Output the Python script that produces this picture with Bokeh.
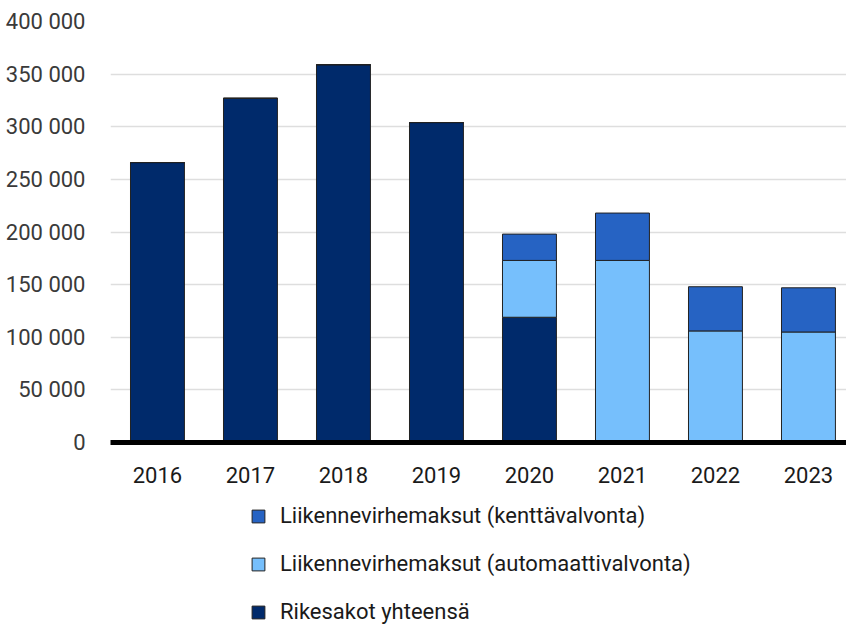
from bokeh.plotting import figure
from bokeh.layouts import column
from bokeh.models import ColumnDataSource, Range1d, FixedTicker, Legend, LegendItem
from bokeh.embed import file_html
from bokeh.resources import INLINE

years = ["2016", "2017", "2018", "2019", "2020", "2021", "2022", "2023"]
rikesakot = [266000, 327000, 359000, 304000, 119000, 0, 0, 0]
automaatti = [0, 0, 0, 0, 54000, 173000, 106000, 105000]
kentta = [0, 0, 0, 0, 25000, 45000, 42000, 42000]
y_ticks = [0, 50000, 100000, 150000, 200000, 250000, 300000, 350000, 400000]
y_labels = ["0", "50 000", "100 000", "150 000", "200 000", "250 000", "300 000", "350 000", "400 000"]
series = ["rike", "auto", "kentta"]
series_labels = {
    "kentta": "Liikennevirhemaksut (kenttävalvonta)",
    "auto": "Liikennevirhemaksut (automaattivalvonta)",
    "rike": "Rikesakot yhteensä",
}
colors = ["#002a6b", "#76bffc", "#2663c3"]

FONT = "Roboto"

src = ColumnDataSource(dict(x=list(range(len(years))), rike=rikesakot, auto=automaatti, kentta=kentta))

p = figure(width=846, height=500, output_backend="svg", toolbar_location=None,
           x_range=Range1d(-0.505, 7.409), y_range=Range1d(0, 400000),
           min_border_left=110, min_border_right=0, min_border_top=21,
           min_border_bottom=58)
p.outline_line_color = None
p.background_fill_color = "white"

rs = p.vbar_stack(series, x="x", width=0.58, source=src, fill_color=colors,
                  line_color="#222222", line_width=1)

# axes
p.xaxis.ticker = FixedTicker(ticks=list(range(len(years))))
p.xaxis.major_label_overrides = {i: y for i, y in enumerate(years)}
p.xaxis.major_tick_line_color = None
p.xaxis.minor_tick_line_color = None
p.xaxis.axis_line_color = "black"
p.xaxis.axis_line_width = 5
p.xaxis.major_label_text_font = FONT
p.xaxis.major_label_text_font_size = "22px"
p.xaxis.major_label_text_color = "#1a1a1a"
p.xaxis.major_label_standoff = 18

p.yaxis.ticker = FixedTicker(ticks=y_ticks)
p.yaxis.major_label_overrides = {t: l for t, l in zip(y_ticks, y_labels)}
p.yaxis.axis_line_color = None
p.yaxis.major_tick_line_color = None
p.yaxis.minor_tick_line_color = None
p.yaxis.major_label_text_font = FONT
p.yaxis.major_label_text_font_size = "22px"
p.yaxis.major_label_text_color = "#3a3a3a"
p.yaxis.major_label_standoff = 19

p.xgrid.grid_line_color = None
p.ygrid.grid_line_color = "#dedede"
p.ygrid.grid_line_width = 1.5

# legend in its own strip below the chart (the strip's view lies far from the bars,
# beyond its lower-left corner)
lf = figure(width=846, height=124, output_backend="svg", toolbar_location=None,
            x_axis_type=None, y_axis_type=None, x_range=Range1d(100, 108),
            y_range=Range1d(1000000, 2000000),
            min_border_left=110, min_border_right=0, min_border_top=0, min_border_bottom=0)
lf.outline_line_color = None
lf.xgrid.grid_line_color = None
lf.ygrid.grid_line_color = None
legend_renderers = {}
for s, c in zip(series, colors):
    legend_renderers[s] = lf.vbar(x="x", top=s, width=0.58, source=src,
                                  fill_color=c, line_color="#222222", line_width=1)

items = [LegendItem(label=series_labels[s], renderers=[legend_renderers[s]]) for s in series][::-1]
legend = Legend(items=items, orientation="vertical", location=(140, 0),
                label_text_font=FONT, label_text_font_size="22px", label_text_color="#1a1a1a",
                glyph_width=16, glyph_height=16, label_height=22, spacing=23,
                border_line_color=None, background_fill_alpha=0, padding=0, margin=0,
                label_standoff=14)
lf.add_layout(legend, "center")

layout = column(p, lf, spacing=0)
open("out.html", "w").write(file_html(layout, INLINE))
